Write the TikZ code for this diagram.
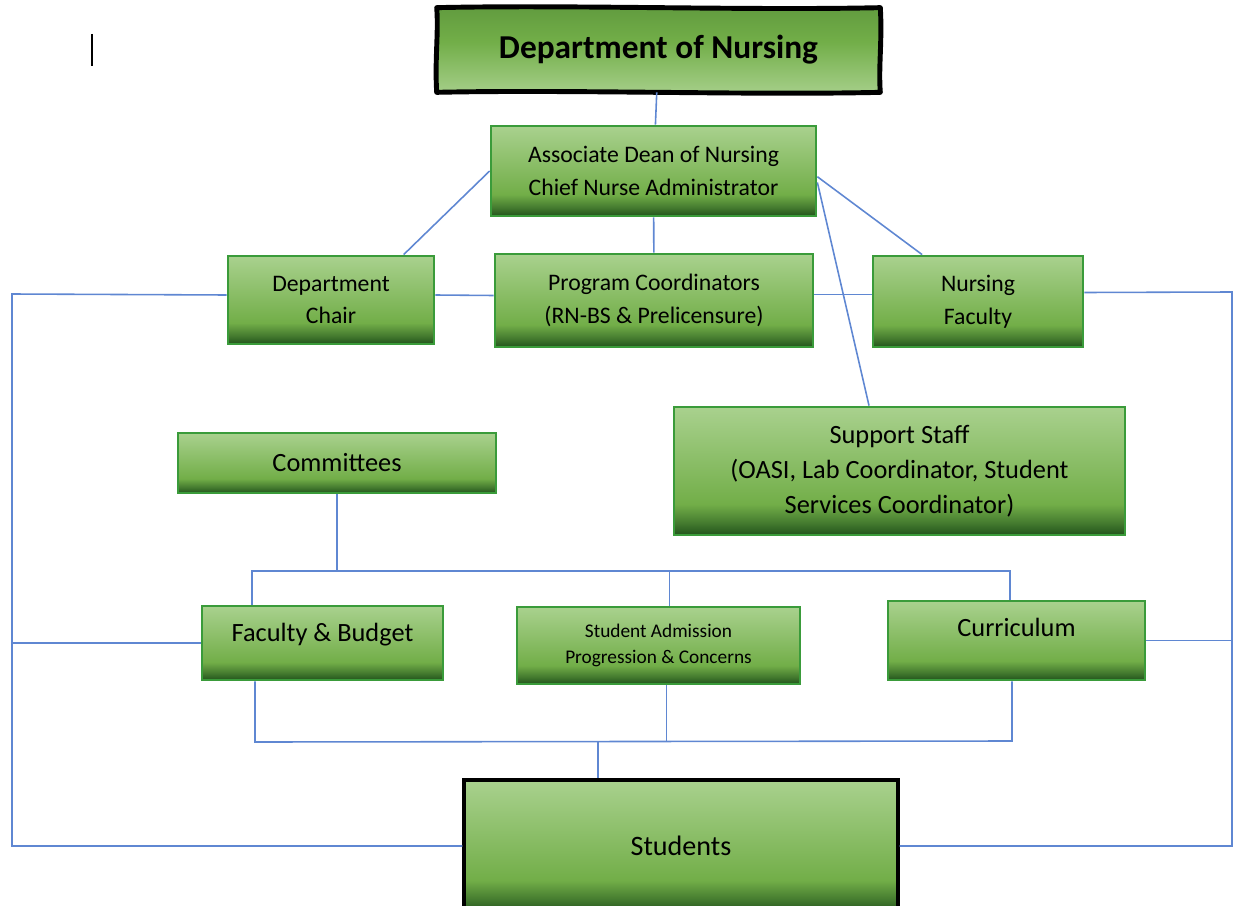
\documentclass[tikz,border=0pt]{standalone}
\usepackage{fontspec}
\setmainfont{Carlito}
\usetikzlibrary{positioning,calc}

\definecolor{lightgrn}{RGB}{169,209,142}
\definecolor{midgrn}{RGB}{114,174,72}
\definecolor{darkgrn}{RGB}{34,84,28}
\definecolor{edgegrn}{RGB}{58,155,58}
\definecolor{linkblue}{RGB}{95,135,210}

\pgfdeclareverticalshading{boxgreen}{100bp}{color(0bp)=(darkgrn); color(25bp)=(darkgrn); color(30bp)=(darkgrn!55!midgrn); color(37bp)=(midgrn); color(75bp)=(lightgrn); color(100bp)=(lightgrn)}
\pgfdeclareverticalshading{headgreen}{100bp}{color(0bp)=(lightgrn); color(25bp)=(lightgrn!90!midgrn); color(55bp)=(midgrn); color(75bp)=(midgrn!80!darkgrn); color(100bp)=(midgrn!80!darkgrn)}

\begin{document}
\begin{tikzpicture}[x=0.02cm, y=-0.02cm,
    box/.style={draw=edgegrn, line width=1.6pt, shade, shading=boxgreen, align=center, inner sep=2pt},
    link/.style={draw=linkblue, line width=0.9pt},
    txtm/.style={font=\fontsize{13.5}{18.5}\selectfont},
    txtl/.style={font=\fontsize{15}{20}\selectfont},
    txts/.style={font=\fontsize{11}{14.8}\selectfont}]
    \useasboundingbox (0,0) rectangle (1239,905);

    % Cursor mark
    \draw[line width=1pt] (92,34) -- (92,66);

    % Top of the chart
    \node[shade, shading=headgreen, minimum width=8.86cm, minimum height=1.68cm,
          font=\bfseries\fontsize{19}{23}\selectfont] (dept) at (658.5,50) {Department of Nursing};
    % wavy frame
    \draw[line width=2.8pt, line join=round]
        (dept.north west)
        .. controls ($(dept.north west)!0.3!(dept.north east)+(0,-3)$) and ($(dept.north west)!0.7!(dept.north east)+(0,3)$) .. (dept.north east)
        .. controls ($(dept.north east)!0.4!(dept.south east)+(2,0)$) and ($(dept.north east)!0.7!(dept.south east)+(-2,0)$) .. (dept.south east)
        .. controls ($(dept.south east)!0.3!(dept.south west)+(0,3)$) and ($(dept.south east)!0.7!(dept.south west)+(0,-3)$) .. (dept.south west)
        .. controls ($(dept.south west)!0.4!(dept.north west)+(-2,0)$) and ($(dept.south west)!0.7!(dept.north west)+(2,0)$) .. cycle;
    \node[box, txtm, minimum width=6.5cm, minimum height=1.8cm] (assoc) at (653.5,171)
        {Associate Dean of Nursing\\Chief Nurse Administrator};

    % Second row
    \node[box, txtm, minimum width=4.12cm, minimum height=1.76cm] (chair) at (331,300) {Department\\Chair};
    \node[box, txtm, minimum width=6.36cm, minimum height=1.86cm] (prog) at (654,300.5)
        {Program Coordinators\\(RN-BS \& Prelicensure)};
    \node[box, txtm, minimum width=4.2cm, minimum height=1.82cm] (fac) at (978,301.5) {Nursing\\Faculty};
    \node[box, txtl, minimum width=9.02cm, minimum height=2.56cm] (staff) at (899.5,471)
        {Support Staff\\(OASI, Lab Coordinator, Student\\Services Coordinator)};

    % Committees
    \node[box, txtl, minimum width=6.36cm, minimum height=1.2cm] (comm) at (337,463) {Committees};
    \node[box, txtl, minimum width=4.82cm, minimum height=1.48cm, text depth=12pt] (fb) at (322.5,643) {Faculty \& Budget};
    \node[box, txts, minimum width=5.66cm, minimum height=1.54cm] (adm) at (658.5,645.5)
        {Student Admission\\Progression \& Concerns};
    \node[box, txtl, minimum width=5.14cm, minimum height=1.58cm, text depth=15pt] (curr) at (1016.5,640.5) {Curriculum};

    % Students
    \node[draw=black, line width=1.8pt, shade, shading=boxgreen, minimum width=8.68cm, minimum height=2.64cm,
          font=\fontsize{16}{20}\selectfont] (stud) at (681,846) {Students};

    % Bus points
    \coordinate (lft) at (12,294);
    \coordinate (rgt) at (1232,292);
    \coordinate (busL) at (252,571);
    \coordinate (busR) at (1010,571);
    \coordinate (botL) at (255,742);
    \coordinate (botR) at (1012,741);
    \coordinate (botM) at (598,742);

    % Links from the top
    \draw[link] (dept) -- (assoc);
    \draw[link] (assoc.west) -- (chair.32);
    \draw[link] (assoc) -- (prog);
    \draw[link] (assoc.-2) -- (fac.140);
    \draw[link] (assoc.-4) -- (staff.115);
    \draw[link] ($(chair.east)+(0,-5)$) -- ($(prog.west)+(0,-5)$);
    \draw[link] ($(prog.east)+(0,-6)$) -- ($(fac.west)+(0,-7)$);

    % Outer loop
    \draw[link] ($(chair.west)+(0,-5)$) -- (lft) -- (lft |- stud.west) -- (stud.west);
    \draw[link] (fb.west) -- (fb.west -| lft);
    \draw[link] ($(fac.east)+(0,-9)$) -- (rgt) -- (rgt |- stud.east) -- (stud.east);
    \draw[link] (curr.east) -- (curr.east -| rgt);

    % Committee bus
    \draw[link] (comm.south) -- (comm.south |- busL);
    \draw[link] (busL |- fb.north) -- (busL) -- (busR) -- (busR |- curr.north);
    \draw[link] ($(adm.north)+(11,0)$) -- ($(adm.north |- busL)+(11,0)$);

    % Bottom bus
    \draw[link] (botL |- fb.south) -- (botL) -- (botR) -- (botR |- curr.south);
    \draw[link] ($(adm.south)+(8,0)$) -- ($(adm.south |- botL)+(8,0)$);
    \draw[link] (botM) -- (botM |- stud.north);
\end{tikzpicture}
\end{document}
